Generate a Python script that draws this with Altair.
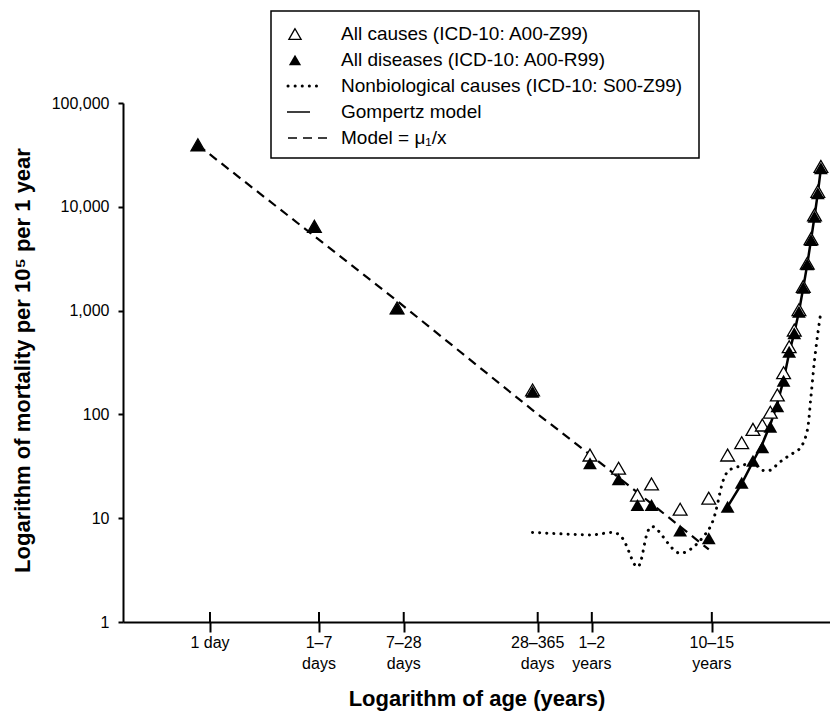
import altair as alt
import pandas as pd

# ---------------- data (ages in years, interval midpoints) ----------------
ages = [0.5/365, 4/365, 17.5/365, 196.5/365, 1.5, 2.5, 3.5, 4.5, 7.5, 12.5,
        17.5, 22.5, 27.5, 32.5, 37.5, 42.5, 47.5, 52.5, 57.5, 62.5, 67.5,
        72.5, 77.5, 82.5, 87.5, 92.5]
all_diseases = [39400, 6430, 1050, 165, 33.8, 23.7, 13.4, 13.4, 7.6, 6.4,
                12.9, 22.0, 35.8, 48.2, 76, 120, 211, 402, 604, 975, 1660,
                2790, 4790, 8030, 13500, 23500]
all_causes = [39600, 6480, 1060, 172, 40.6, 30.3, 16.7, 21.4, 12.2, 15.6,
              40.6, 53.4, 71.8, 79, 105, 154, 252, 449, 650, 1020, 1710,
              2860, 4940, 8360, 14100, 24500]

nonbio_ages = [196.5/365, 1.5, 2.5, 3.5, 4.5, 7.5, 12.5, 17.5, 22.5, 27.5,
               32.5, 37.5, 42.5, 47.5, 52.5, 57.5, 62.5, 67.5, 72.5, 77.5,
               82.5, 87.5, 92.5]
nonbio = [7.3, 6.9, 7.0, 3.4, 8.3, 4.6, 7.8, 28, 32, 34, 29, 29, 33, 37, 40,
          43, 46, 53, 70, 150, 330, 600, 980]

gompertz_ages = [17.5, 22.5, 27.5, 32.5, 37.5, 42.5, 47.5, 52.5, 57.5, 62.5,
                 67.5, 72.5, 77.5, 82.5, 87.5, 92.5]
gompertz = [12.9, 21.5, 35, 52, 80, 127, 215, 390, 610, 975, 1660, 2790,
            4790, 8030, 13500, 23500]

model_ages = [0.5/365, 17.5/365, 196.5/365, 1.5, 12.5]
model = [39400, 1240, 110, 41, 5.0]

tick_ages = [0.0017, 0.0119, 0.054, 0.59, 1.55, 13.2]
tick_labels = ["1 day", "1–7|days", "7–28|days", "28–365|days",
               "1–2|years", "10–15|years"]

y_ticks = [1, 10, 100, 1000, 10000, 100000]

legend_labels = ["All causes (ICD-10: A00-Z99)",
                 "All diseases (ICD-10: A00-R99)",
                 "Nonbiological causes (ICD-10: S00-Z99)",
                 "Gompertz model",
                 "Model = μ₁/x"]

# ---------------- layout ----------------
W, H = 707, 519
FONT = "Liberation Sans"

xscale = alt.Scale(type="log", domain=[3.6e-4, 108.8], nice=False)
yscale = alt.Scale(type="log", domain=[1, 100000], nice=False)

x_axis = alt.Axis(
    values=tick_ages, labels=False, ticks=True, tickSize=10, tickWidth=2,
    tickColor="black", domainColor="black", domainWidth=2, grid=False,
    title="Logarithm of age (years)", titleFontSize=22, titleFontWeight="bold",
    titleColor="black", titleY=76, titleBaseline="middle", titleAlign="center")
y_axis = alt.Axis(
    values=y_ticks, format=",", labelFontSize=16, labelColor="black",
    labelPadding=9, tickSize=5, tickWidth=2, tickColor="black",
    domainColor="black", domainWidth=2, grid=False,
    title="Logarithm of mortality per 10⁵ per 1 year", titleFontSize=22,
    titleFontWeight="bold", titleColor="black", titleAngle=270,
    titleX=-101, titleY=257, titleAlign="center", titleBaseline="middle")


def X():
    return alt.X("age:Q", scale=xscale, axis=x_axis)


def Y(field):
    return alt.Y(field + ":Q", scale=yscale, axis=y_axis)


df_pts = pd.DataFrame({"age": ages, "dis": all_diseases, "cau": all_causes})
df_nb = pd.DataFrame({"age": nonbio_ages, "v": nonbio})
df_gz = pd.DataFrame({"age": gompertz_ages, "v": gompertz})
df_md = pd.DataFrame({"age": model_ages, "v": model})
df_tk = pd.DataFrame({"age": tick_ages, "label": tick_labels})

nb_line = alt.Chart(df_nb).mark_line(
    color="black", strokeWidth=3, strokeDash=[0.1, 7], strokeCap="round",
    interpolate="catmull-rom").encode(x=X(), y=Y("v"))
md_line = alt.Chart(df_md).mark_line(
    color="black", strokeWidth=2.2, strokeDash=[9, 6]).encode(x=X(), y=Y("v"))
gz_line = alt.Chart(df_gz).mark_line(color="black", strokeWidth=2.5).encode(
    x=X(), y=Y("v"))
open_tri = alt.Chart(df_pts).mark_point(
    shape="triangle-up", filled=True, fill="white", stroke="black",
    strokeWidth=1.3, size=190, opacity=1).encode(x=X(), y=Y("cau"))
fill_tri = alt.Chart(df_pts).mark_point(
    shape="triangle-up", filled=True, color="black", size=190,
    opacity=1).encode(x=X(), y=Y("dis"))

inner_ticks = alt.Chart(df_tk).mark_rule(color="black", strokeWidth=2).encode(
    x=X(), y=alt.value(H - 10), y2=alt.value(H))
tick_text = alt.Chart(df_tk).mark_text(
    lineBreak="|", baseline="top", align="center", fontSize=16,
    lineHeight=21, color="black", font=FONT).encode(
    x=X(), y=alt.value(H + 13), text="label:N")

# ---------------- legend ----------------
one = alt.Data(values=[{"k": 1}])
LX0, LX1, LY0, LY1 = 148, 576, -92, 55
rows = [-69, -43, -17, 9, 35]
sym_x, text_x = 172, 218

leg = [alt.Chart(one).mark_rect(fill="white", stroke="black", strokeWidth=1.5).encode(
    x=alt.value(LX0), x2=alt.value(LX1), y=alt.value(LY0), y2=alt.value(LY1))]
leg.append(alt.Chart(one).mark_point(
    shape="triangle-up", filled=True, fill="white", stroke="black",
    strokeWidth=1.3, size=150, opacity=1).encode(
    x=alt.value(sym_x), y=alt.value(rows[0])))
leg.append(alt.Chart(one).mark_point(
    shape="triangle-up", filled=True, color="black", size=150,
    opacity=1).encode(x=alt.value(sym_x), y=alt.value(rows[1])))
leg.append(alt.Chart(one).mark_rule(
    color="black", strokeWidth=3, strokeDash=[0.1, 7], strokeCap="round").encode(
    x=alt.value(165), x2=alt.value(197), y=alt.value(rows[2])))
leg.append(alt.Chart(one).mark_rule(color="black", strokeWidth=1.5).encode(
    x=alt.value(164), x2=alt.value(187), y=alt.value(rows[3])))
leg.append(alt.Chart(one).mark_rule(
    color="black", strokeWidth=1.5, strokeDash=[9, 6]).encode(
    x=alt.value(165), x2=alt.value(205), y=alt.value(rows[4])))
for lab, ry in zip(legend_labels, rows):
    leg.append(alt.Chart(one).mark_text(
        text=lab, align="left", baseline="middle", fontSize=19,
        color="black", font=FONT).encode(x=alt.value(text_x), y=alt.value(ry)))

chart = alt.layer(
    nb_line, md_line, gz_line, open_tri, fill_tri, inner_ticks, tick_text, *leg
).properties(
    width=W, height=H,
    autosize=alt.AutoSizeParams(type="none"),
    padding={"left": 115, "top": 95, "right": 0, "bottom": 89},
).configure(font=FONT).configure_view(stroke=None).configure_axis(
    labelFont=FONT, titleFont=FONT)

chart.save("out.html", embed_options={"renderer": "svg", "actions": False})
